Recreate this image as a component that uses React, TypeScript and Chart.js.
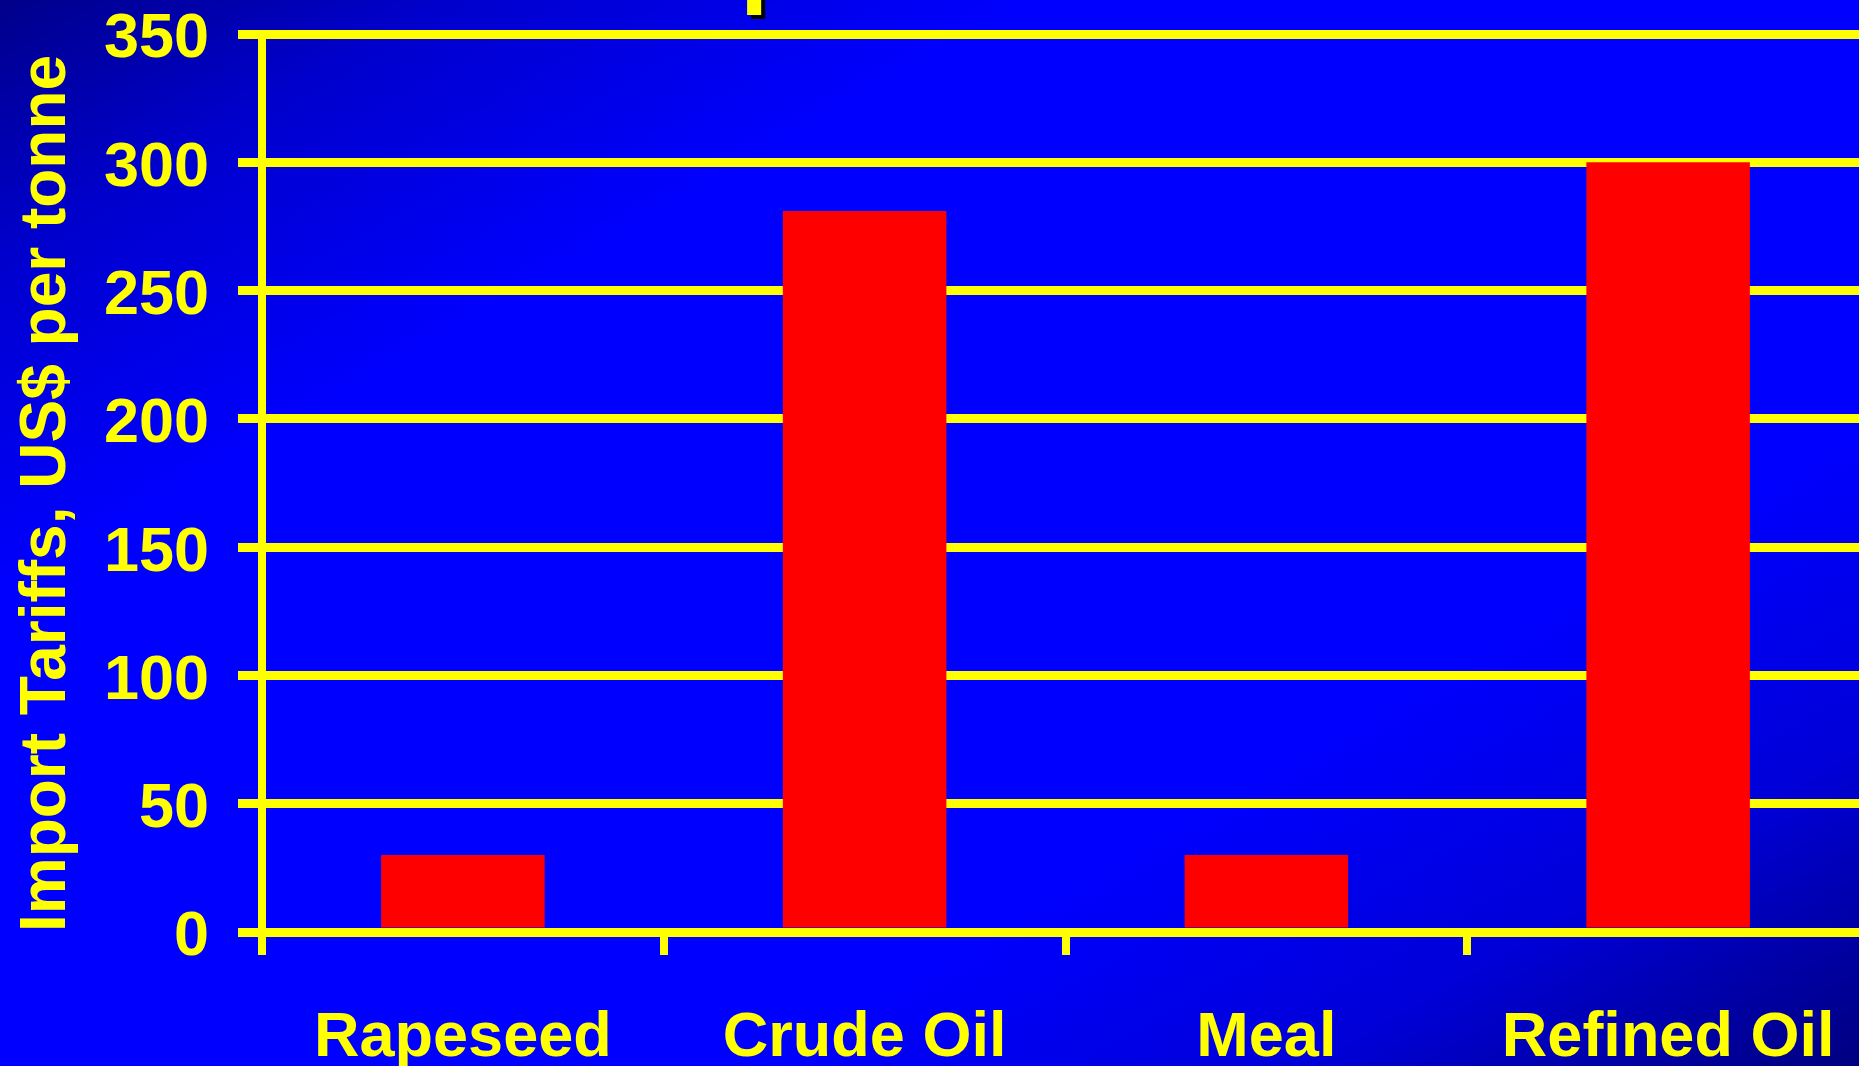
import React, { useEffect, useRef } from "react";
import { Chart, registerables } from "chart.js";

Chart.register(...registerables);

const categories = ["Rapeseed", "Crude Oil", "Meal", "Refined Oil"];
const tariffs = [30, 281, 30, 300];
const yTickStep = 50;
const yMin = 0;
const yMax = 350;
const yAxisTitle = "Import Tariffs, US$ per tonne";
const titleFragment = "p";

const FONT = "'Liberation Sans', Arial, Helvetica, sans-serif";
const YELLOW = "#FFFF00";
const RED = "#FF0000";

const titlePlugin = {
  id: "titleFragment",
  afterDraw(chart: any) {
    const ctx = chart.ctx;
    ctx.save();
    ctx.font = `bold 102px ${FONT}`;
    ctx.textAlign = "left";
    ctx.textBaseline = "alphabetic";
    ctx.fillStyle = "#000000";
    ctx.fillText(titleFragment, 744, -2);
    ctx.fillStyle = YELLOW;
    ctx.fillText(titleFragment, 740, -6);
    ctx.restore();
  },
};

export default function App() {
  const ref = useRef<HTMLCanvasElement | null>(null);

  useEffect(() => {
    if (!ref.current) return;
    document.body.style.margin = "0";
    document.body.style.overflow = "hidden";
    const tickFont = { family: FONT, size: 63, weight: "bold" as const, lineHeight: 1.2 };
    const titleFont = { family: FONT, size: 64, weight: "bold" as const, lineHeight: 1.2 };
    const chart = new Chart(ref.current, {
      type: "bar",
      data: {
        labels: categories,
        datasets: [
          {
            data: tariffs,
            backgroundColor: RED,
            borderWidth: 0,
            barPercentage: 0.407,
            categoryPercentage: 1,
          },
        ],
      },
      options: {
        responsive: false,
        animation: false,
        devicePixelRatio: 1,
        layout: { padding: { top: 34, right: 11, bottom: 0, left: 0 } },
        plugins: {
          legend: { display: false },
          tooltip: { enabled: false },
          title: { display: false },
        },
        scales: {
          x: {
            offset: true,
            grid: {
              display: true,
              offset: true,
              drawOnChartArea: false,
              drawTicks: true,
              tickLength: 23,
              tickWidth: 8,
              tickColor: YELLOW,
              color: YELLOW,
              lineWidth: 8,
            },
            border: { display: true, color: YELLOW, width: 9 },
            ticks: {
              color: YELLOW,
              font: tickFont,
              padding: 46,
              maxRotation: 0,
              minRotation: 0,
              autoSkip: false,
            },
            afterFit: (s: any) => {
              s.height = 134;
              s.paddingLeft = 0;
              s.paddingRight = 0;
            },
          } as any,
          y: {
            min: yMin,
            max: yMax,
            ticks: {
              stepSize: yTickStep,
              color: YELLOW,
              font: tickFont,
              padding: 29,
              labelOffset: 6,
            },
            grid: {
              color: YELLOW,
              lineWidth: 9,
              tickLength: 24,
              tickWidth: 9,
              tickColor: YELLOW,
              drawTicks: true,
            },
            border: { display: true, color: YELLOW, width: 8 },
            title: {
              display: true,
              text: yAxisTitle,
              color: YELLOW,
              align: "start",
              font: titleFont,
              padding: { top: 9, bottom: 0 },
            },
            afterFit: (s: any) => {
              s.width = 262;
              s.paddingTop = 0;
              s.paddingBottom = 0;
            },
          } as any,
        },
      },
      plugins: [titlePlugin],
    });
    return () => chart.destroy();
  }, []);

  return (
    <div
      style={{
        position: "fixed",
        left: 0,
        top: 0,
        width: 1859,
        height: 1066,
        overflow: "hidden",
        background:
          "linear-gradient(to bottom right, #00008A 0%, #0000CC 12%, #0000FF 28%, #0000FF 70%, #0000D8 85%, #0000A8 93%, #000080 100%)",
      }}
    >
      <canvas ref={ref} width={1880} height={1066} style={{ display: "block" }} />
    </div>
  );
}
